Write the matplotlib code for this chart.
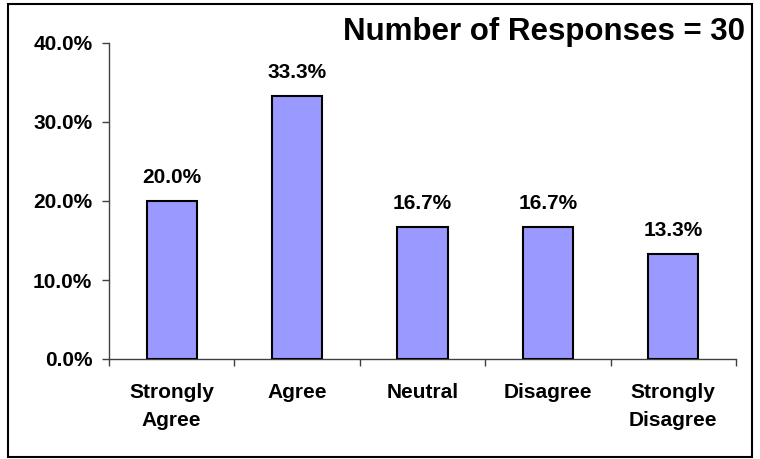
import matplotlib.pyplot as plt
from matplotlib.patches import Rectangle
from matplotlib.ticker import FuncFormatter, FixedLocator
import numpy as np

plt.rcParams['font.family'] = ['Liberation Sans', 'DejaVu Sans']
plt.rcParams['font.weight'] = 'bold'

categories = ['Strongly\nAgree', 'Agree', 'Neutral', 'Disagree', 'Strongly\nDisagree']
percents = [20.0, 33.3, 16.7, 16.7, 13.3]
n_responses = 30

values = np.array(percents) / 100.0
x = np.arange(len(categories))

fig = plt.figure(figsize=(7.6, 4.59), dpi=100)
ax = fig.add_axes([109/760, 1 - 359/459, (736 - 109)/760, (359 - 43)/459])

ax.bar(x, values, width=0.4, color='#9999FF', edgecolor='black', linewidth=1.5, zorder=3)

for xi, v, p in zip(x, values, percents):
    ax.annotate('%.1f%%' % p, (xi, v), xytext=(0, 13), textcoords='offset points',
                ha='center', va='baseline', fontsize=15, fontweight='bold')

ax.set_xlim(-0.5, len(categories) - 0.5)
ax.set_ylim(0, 0.4)
ax.set_yticks([0, 0.1, 0.2, 0.3, 0.4])
ax.yaxis.set_major_formatter(FuncFormatter(lambda v, pos: '%.1f%%' % (v * 100)))

ax.set_xticks(x)
ax.set_xticklabels(categories, fontsize=15, fontweight='bold', linespacing=1.6)
ax.xaxis.set_minor_locator(FixedLocator(np.arange(len(categories) + 1) - 0.5))
ax.tick_params(axis='x', which='major', length=0, pad=17)
ax.tick_params(axis='x', which='minor', length=5, width=1, color='#404040', direction='out')
ax.tick_params(axis='y', length=5, width=1, color='#404040', pad=7, labelsize=15)

for s in ['top', 'right']:
    ax.spines[s].set_visible(False)
for s in ['left', 'bottom']:
    ax.spines[s].set_color('#404040')
    ax.spines[s].set_linewidth(1)

fig.text(745/760, 1 - 40/459, 'Number of Responses = %d' % n_responses,
         ha='right', va='baseline', fontsize=22.5, fontweight='bold')

fig.patches.append(Rectangle((8/760, 2/459), 744/760, 453/459, transform=fig.transFigure,
                             fill=False, edgecolor='black', linewidth=1.5))

fig.savefig('out.png', dpi=100)
